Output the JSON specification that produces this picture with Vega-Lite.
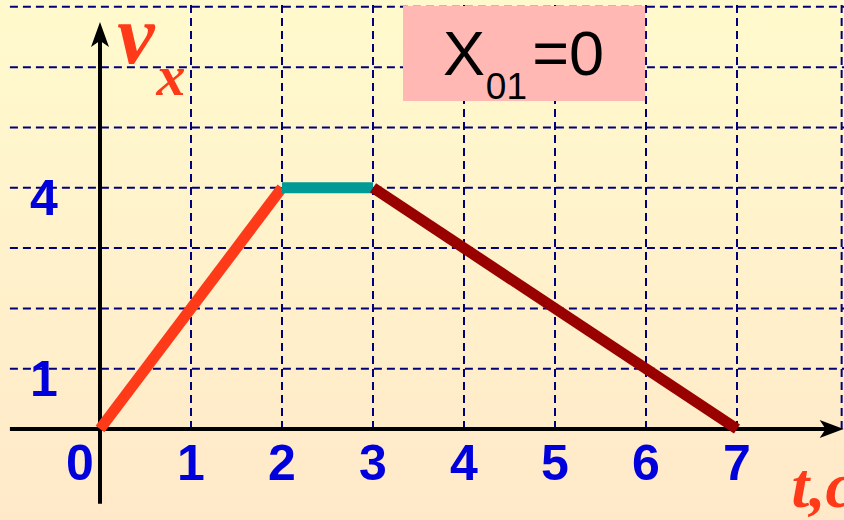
{
  "$schema": "https://vega.github.io/schema/vega-lite/v6.json",
  "width": 844,
  "height": 520,
  "padding": 0,
  "autosize": {"type": "none"},
  "config": {
    "view": {"stroke": null, "fill": {"gradient": "linear", "x1": 0, "y1": 0, "x2": 0, "y2": 1, "stops": [{"offset": 0, "color": "#FFFACD"}, {"offset": 1, "color": "#FFE9C9"}]}}
  },
  "datasets": {
    "hgrid": [{"v": 1}, {"v": 2}, {"v": 3}, {"v": 4}, {"v": 5}, {"v": 6}, {"v": 7}],
    "vgrid": [{"t": 1}, {"t": 2}, {"t": 3}, {"t": 4}, {"t": 5}, {"t": 6}, {"t": 7}, {"t": 8.15}],
    "motion": [
      {"seg": "разгон", "t": 0, "v": 0}, {"seg": "разгон", "t": 2, "v": 4},
      {"seg": "равномерно", "t": 2, "v": 4}, {"seg": "равномерно", "t": 3, "v": 4},
      {"seg": "торможение", "t": 3, "v": 4}, {"seg": "торможение", "t": 7, "v": 0}
    ],
    "xlabels": [{"t": -0.22, "label": "0"}, {"t": 1, "label": "1"}, {"t": 2, "label": "2"}, {"t": 3, "label": "3"}, {"t": 4, "label": "4"}, {"t": 5, "label": "5"}, {"t": 6, "label": "6"}, {"t": 7, "label": "7"}],
    "ylabels": [{"v": 1, "label": "1"}, {"v": 4, "label": "4"}]
  },
  "layer": [
    {
      "data": {"name": "hgrid"},
      "mark": {"type": "rule", "color": "#00007A", "strokeWidth": 2, "strokeDash": [8, 5]},
      "encoding": {
        "x": {"datum": -0.99, "type": "quantitative", "scale": {"domain": [-1.0989, 8.1758], "nice": false, "zero": false}, "axis": null},
        "x2": {"datum": 8.3},
        "y": {"field": "v", "type": "quantitative", "scale": {"domain": [-1.509, 7.114], "nice": false, "zero": false}, "axis": null}
      }
    },
    {
      "data": {"name": "vgrid"},
      "mark": {"type": "rule", "color": "#00007A", "strokeWidth": 2, "strokeDash": [8, 5]},
      "encoding": {
        "x": {"field": "t", "type": "quantitative"},
        "y": {"datum": 0, "type": "quantitative"},
        "y2": {"datum": 7.04}
      }
    },
    {
      "data": {"values": [{"axis": "t"}]},
      "mark": {"type": "rule", "color": "black", "strokeWidth": 4},
      "encoding": {
        "x": {"datum": -0.99, "type": "quantitative"},
        "x2": {"datum": 8.0},
        "y": {"datum": 0, "type": "quantitative"}
      }
    },
    {
      "data": {"values": [{"axis": "v"}]},
      "mark": {"type": "rule", "color": "black", "strokeWidth": 4},
      "encoding": {
        "x": {"datum": 0, "type": "quantitative"},
        "y": {"datum": -1.24, "type": "quantitative"},
        "y2": {"datum": 6.6}
      }
    },
    {
      "data": {"values": [{"axis": "t"}]},
      "mark": {"type": "point", "shape": "M1,0 L-1,0.75 L-0.5,0 L-1,-0.75 Z", "filled": true, "color": "black", "opacity": 1, "size": 576},
      "encoding": {
        "x": {"datum": 8.04, "type": "quantitative"},
        "y": {"datum": 0, "type": "quantitative"}
      }
    },
    {
      "data": {"values": [{"axis": "v"}]},
      "mark": {"type": "point", "shape": "M0,-1 L0.72,1 L0,0.5 L-0.72,1 Z", "filled": true, "color": "black", "opacity": 1, "size": 625},
      "encoding": {
        "x": {"datum": 0, "type": "quantitative"},
        "y": {"datum": 6.54, "type": "quantitative"}
      }
    },
    {
      "data": {"name": "motion"},
      "mark": {"type": "line", "strokeWidth": 11, "strokeCap": "butt"},
      "encoding": {
        "x": {"field": "t", "type": "quantitative"},
        "y": {"field": "v", "type": "quantitative"},
        "color": {"field": "seg", "type": "nominal", "scale": {"domain": ["разгон", "равномерно", "торможение"], "range": ["#FF3A18", "#009A96", "#990000"]}, "legend": null},
        "order": {"field": "t"}
      }
    },
    {
      "data": {"name": "xlabels"},
      "mark": {"type": "text", "font": "Liberation Sans", "fontWeight": "bold", "fontSize": 50, "color": "#0000DD", "align": "center", "baseline": "alphabetic", "dy": 51},
      "encoding": {
        "x": {"field": "t", "type": "quantitative"},
        "y": {"datum": 0, "type": "quantitative"},
        "text": {"field": "label"}
      }
    },
    {
      "data": {"name": "ylabels"},
      "mark": {"type": "text", "font": "Liberation Sans", "fontWeight": "bold", "fontSize": 50, "color": "#0000DD", "align": "center", "baseline": "alphabetic", "dy": 27, "dx": -56},
      "encoding": {
        "x": {"datum": 0, "type": "quantitative"},
        "y": {"field": "v", "type": "quantitative"},
        "text": {"field": "label"}
      }
    },
    {
      "data": {"values": [{"t": 3.33, "t2": 5.99, "v": 7.015, "v2": 5.44}]},
      "mark": {"type": "rect", "color": "#FFB8B4", "opacity": 1},
      "encoding": {
        "x": {"field": "t", "type": "quantitative"},
        "x2": {"field": "t2"},
        "y": {"field": "v", "type": "quantitative"},
        "y2": {"field": "v2"}
      }
    },
    {
      "data": {"values": [{"t": 3.77, "v": 5.87, "label": "X"}, {"t": 4.75, "v": 5.87, "label": "=0"}]},
      "mark": {"type": "text", "font": "Liberation Sans", "fontSize": 63, "color": "black", "align": "left", "baseline": "alphabetic"},
      "encoding": {
        "x": {"field": "t", "type": "quantitative"},
        "y": {"field": "v", "type": "quantitative"},
        "text": {"field": "label"}
      }
    },
    {
      "data": {"values": [{"t": 4.24, "v": 5.47, "label": "01"}]},
      "mark": {"type": "text", "font": "Liberation Sans", "fontSize": 37, "color": "black", "align": "left", "baseline": "alphabetic"},
      "encoding": {
        "x": {"field": "t", "type": "quantitative"},
        "y": {"field": "v", "type": "quantitative"},
        "text": {"field": "label"}
      }
    },
    {
      "data": {"values": [{"t": 0.19, "v": 6.07, "label": "v"}]},
      "mark": {"type": "text", "font": "Liberation Serif", "fontStyle": "italic", "fontWeight": "bold", "fontSize": 84, "color": "#FF3A18", "align": "left", "baseline": "alphabetic"},
      "encoding": {
        "x": {"field": "t", "type": "quantitative"},
        "y": {"field": "v", "type": "quantitative"},
        "text": {"field": "label"}
      }
    },
    {
      "data": {"values": [{"t": 0.62, "v": 5.54, "label": "x"}]},
      "mark": {"type": "text", "font": "Liberation Serif", "fontStyle": "italic", "fontWeight": "bold", "fontSize": 58, "color": "#FF3A18", "align": "left", "baseline": "alphabetic"},
      "encoding": {
        "x": {"field": "t", "type": "quantitative"},
        "y": {"field": "v", "type": "quantitative"},
        "text": {"field": "label"}
      }
    },
    {
      "data": {"values": [{"t": 7.6, "v": -1.3, "label": "t,c"}]},
      "mark": {"type": "text", "font": "Liberation Serif", "fontStyle": "italic", "fontWeight": "bold", "fontSize": 64, "color": "#FF3A18", "align": "left", "baseline": "alphabetic"},
      "encoding": {
        "x": {"field": "t", "type": "quantitative"},
        "y": {"field": "v", "type": "quantitative"},
        "text": {"field": "label"}
      }
    }
  ]
}
